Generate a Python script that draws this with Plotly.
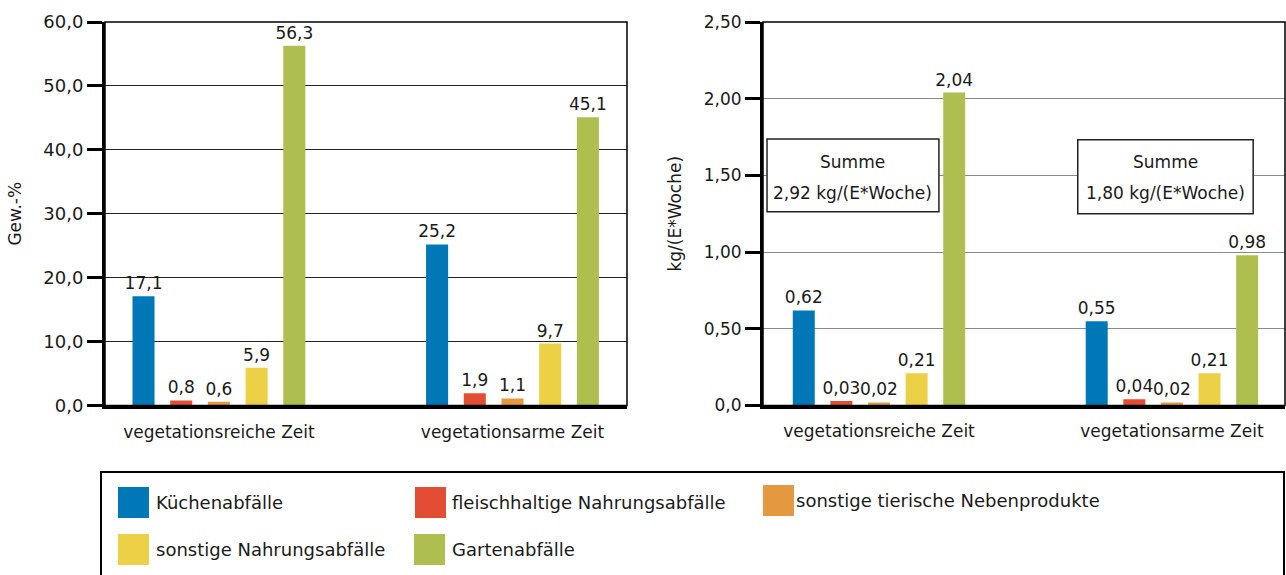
import plotly.graph_objects as go

# ---------------- data ----------------
categories = ["vegetationsreiche Zeit", "vegetationsarme Zeit"]
series_names = [
    "Küchenabfälle",
    "fleischhaltige Nahrungsabfälle",
    "sonstige tierische Nebenprodukte",
    "sonstige Nahrungsabfälle",
    "Gartenabfälle",
]

# Gew.-%
pct_kuechen = [17.1, 25.2]
pct_fleisch = [0.8, 1.9]
pct_tierisch = [0.6, 1.1]
pct_nahrung = [5.9, 9.7]
pct_garten = [56.3, 45.1]

# kg/(E*Woche)
kg_kuechen = [0.62, 0.55]
kg_fleisch = [0.03, 0.04]
kg_tierisch = [0.02, 0.02]
kg_nahrung = [0.21, 0.21]
kg_garten = [2.04, 0.98]

left_tickvals = [0, 10, 20, 30, 40, 50, 60]
left_ticktext = ["0,0", "10,0", "20,0", "30,0", "40,0", "50,0", "60,0"]
right_tickvals = [0, 0.5, 1.0, 1.5, 2.0, 2.5]
right_ticktext = ["0,0", "0,50", "1,00", "1,50", "2,00", "2,50"]

# ---------------- style ----------------
colors = ["#0078B8", "#E34D33", "#E49940", "#ECD045", "#AEBF50"]
FONT = "DejaVu Sans"
W, H = 1286, 575
TXT = "#1a1a1a"


def px(x):
    return x / W


def py(y):
    return 1 - y / H


pct_series = [pct_kuechen, pct_fleisch, pct_tierisch, pct_nahrung, pct_garten]
kg_series = [kg_kuechen, kg_fleisch, kg_tierisch, kg_nahrung, kg_garten]

fig = go.Figure()

for name, vals, col in zip(series_names, pct_series, colors):
    fig.add_trace(go.Bar(
        x=categories, y=vals, name=name, marker=dict(color=col, line=dict(width=0)),
        texttemplate="%{y:.1f}", textposition="outside", constraintext="none",
        textfont=dict(size=17, color=TXT, family=FONT), cliponaxis=False,
        xaxis="x", yaxis="y", showlegend=False,
    ))

for name, vals, col in zip(series_names, kg_series, colors):
    fig.add_trace(go.Bar(
        x=categories, y=vals, name=name, marker=dict(color=col, line=dict(width=0)),
        texttemplate="%{y:.2f}", textposition="outside", constraintext="none",
        textfont=dict(size=17, color=TXT, family=FONT), cliponaxis=False,
        xaxis="x2", yaxis="y2", showlegend=False,
    ))

ydom = [py(405.5), py(22)]

axis_common = dict(showline=True, linecolor="black", linewidth=3, automargin=False)

fig.update_layout(
    width=W, height=H,
    margin=dict(l=0, r=0, t=0, b=0, autoexpand=False),
    paper_bgcolor="white", plot_bgcolor="white",
    font=dict(family=FONT, size=17, color=TXT),
    separators=",.",
    barmode="group", bargap=0.358, bargroupgap=0.415,
    showlegend=False,
    xaxis=dict(domain=[px(105), px(627)], anchor="y", type="category",
               range=[-0.388, 1.39], ticks="", showgrid=False,
               tickfont=dict(size=17), ticklabelstandoff=9, **axis_common),
    yaxis=dict(domain=ydom, anchor="x", range=[0, 60],
               tickvals=left_tickvals, ticktext=left_ticktext,
               ticks="outside", ticklen=15, tickwidth=3, tickcolor="black",
               showgrid=True, gridcolor="#222222", gridwidth=1, zeroline=False,
               tickfont=dict(size=18),
               title=dict(text="Gew.-%", font=dict(size=17), standoff=18),
               **axis_common),
    xaxis2=dict(domain=[px(763), px(1285)], anchor="y2", type="category",
                range=[-0.396, 1.386], ticks="", showgrid=False,
                tickfont=dict(size=17), ticklabelstandoff=8, **axis_common),
    yaxis2=dict(domain=ydom, anchor="x2", range=[0, 2.5],
                tickvals=right_tickvals, ticktext=right_ticktext,
                ticks="outside", ticklen=15, tickwidth=3, tickcolor="black",
                showgrid=True, gridcolor="#8a8a8a", gridwidth=1, zeroline=False,
                tickfont=dict(size=17),
                title=dict(text="kg/(E*Woche)", font=dict(size=17), standoff=18),
                **axis_common),
)

shapes = []
# frame (top/right borders) of both plots
for xr, yr in [("x domain", "y domain"), ("x2 domain", "y2 domain")]:
    shapes.append(dict(type="rect", xref=xr, yref=yr, x0=0, x1=1, y0=0, y1=1,
                       line=dict(color="black", width=1.5), layer="above"))

# Summe boxes
box_x = [(0.0077, 0.337), (0.603, 0.939)]
box_y = [(1.263, 1.738), (1.25, 1.732)]
annotations = []
for i, ((x0, x1), (y0, y1)) in enumerate(zip(box_x, box_y)):
    shapes.append(dict(type="rect", xref="x2 domain", yref="y2", x0=x0, x1=x1, y0=y0, y1=y1,
                       fillcolor="white", line=dict(color="#222222", width=1.5), layer="above"))
    total = sum(s[i] for s in kg_series)
    total_txt = f"{total:.2f}".replace(".", ",")
    xc = (x0 + x1) / 2
    annotations.append(dict(xref="x2 domain", yref="y2", x=xc, y=1.589, text="Summe",
                            xanchor="center", yanchor="middle",
                            showarrow=False, font=dict(size=17, color=TXT)))
    annotations.append(dict(xref="x2 domain", yref="y2", x=xc, y=1.387,
                            text=f"{total_txt} kg/(E*Woche)",
                            xanchor="center", yanchor="middle",
                            showarrow=False, font=dict(size=17, color=TXT)))

# Legend box
shapes.append(dict(type="rect", xref="paper", yref="paper", x0=px(101), x1=px(1284),
                   y0=py(600), y1=py(472), line=dict(color="black", width=2),
                   fillcolor="rgba(0,0,0,0)", layer="above"))
legend_swatch_x = [118, 415, 763, 118, 414]
legend_swatch_y = [487, 487, 485, 534, 534]
legend_text_x = [154, 450, 794, 154, 450]
for name, col, sx, sy, tx in zip(series_names, colors, legend_swatch_x, legend_swatch_y, legend_text_x):
    shapes.append(dict(type="rect", xref="paper", yref="paper",
                       x0=px(sx), x1=px(sx + 31), y0=py(sy + 31), y1=py(sy),
                       fillcolor=col, line=dict(width=0), layer="above"))
    annotations.append(dict(xref="paper", yref="paper", x=px(tx), y=py(sy + 15),
                            xanchor="left", yanchor="middle", text=name, showarrow=False,
                            font=dict(size=18, color=TXT)))

fig.update_layout(shapes=shapes, annotations=annotations)

fig.write_html("out.html", config={"displayModeBar": False},
               post_script="document.body.style.margin='0';")
